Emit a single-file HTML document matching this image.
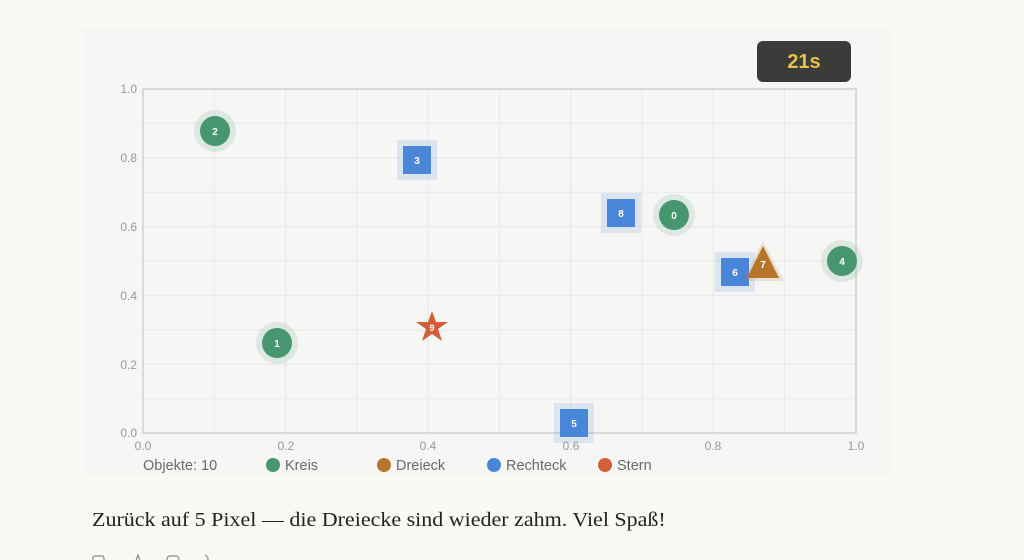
<!DOCTYPE html>
<html><head><meta charset="utf-8"><style>
html,body{margin:0;padding:0;background:#faf9f6;width:1024px;height:560px;overflow:hidden;}
svg{position:absolute;left:0;top:0;}
.p{position:absolute;left:92px;top:509px;font-family:"Liberation Serif",serif;font-size:20px;color:#222;white-space:nowrap;transform:scaleX(1.1);transform-origin:0 0;}
</style></head><body>
<svg width="1024" height="560" xmlns="http://www.w3.org/2000/svg" font-family="Liberation Sans, sans-serif">
<rect x="82" y="28" width="810" height="446" fill="#f6f6f4"/>
<g stroke="#e8e8e6" stroke-width="1">
<line x1="214.3" y1="89" x2="214.3" y2="433"/><line x1="285.6" y1="89" x2="285.6" y2="433"/><line x1="356.9" y1="89" x2="356.9" y2="433"/><line x1="428.2" y1="89" x2="428.2" y2="433"/><line x1="499.5" y1="89" x2="499.5" y2="433"/><line x1="570.8" y1="89" x2="570.8" y2="433"/><line x1="642.1" y1="89" x2="642.1" y2="433"/><line x1="713.4" y1="89" x2="713.4" y2="433"/><line x1="784.7" y1="89" x2="784.7" y2="433"/>
<line x1="143" y1="123.4" x2="856" y2="123.4"/><line x1="143" y1="157.8" x2="856" y2="157.8"/><line x1="143" y1="192.2" x2="856" y2="192.2"/><line x1="143" y1="226.6" x2="856" y2="226.6"/><line x1="143" y1="261" x2="856" y2="261"/><line x1="143" y1="295.4" x2="856" y2="295.4"/><line x1="143" y1="329.8" x2="856" y2="329.8"/><line x1="143" y1="364.2" x2="856" y2="364.2"/><line x1="143" y1="398.6" x2="856" y2="398.6"/>
</g>
<rect x="143" y="89" width="713" height="344" fill="none" stroke="#d0d0ce" stroke-width="1.5"/>
<g fill="#999" font-size="12" text-anchor="end">
<text x="137" y="93">1.0</text><text x="137" y="162">0.8</text><text x="137" y="231">0.6</text><text x="137" y="300">0.4</text><text x="137" y="369">0.2</text><text x="137" y="437">0.0</text>
</g>
<g fill="#999" font-size="12" text-anchor="middle">
<text x="143" y="450">0.0</text><text x="286" y="450">0.2</text><text x="428" y="450">0.4</text><text x="571" y="450">0.6</text><text x="713" y="450">0.8</text><text x="856" y="450">1.0</text>
</g>
<rect x="757" y="41" width="94" height="41" rx="6" fill="#3b3b3a"/>
<text x="804" y="68" text-anchor="middle" font-size="20" font-weight="bold" fill="#e8c24a">21s</text>
<g font-size="10" font-weight="bold" fill="#fff" text-anchor="middle">
<circle cx="215" cy="131" r="21" fill="#4a9d78" opacity="0.15"/><circle cx="215" cy="131" r="15" fill="#46976f"/><text x="215" y="135">2</text>
<circle cx="674" cy="215" r="21" fill="#4a9d78" opacity="0.15"/><circle cx="674" cy="215" r="15" fill="#46976f"/><text x="674" y="219">0</text>
<circle cx="842" cy="261" r="21" fill="#4a9d78" opacity="0.15"/><circle cx="842" cy="261" r="15" fill="#46976f"/><text x="842" y="265">4</text>
<circle cx="277" cy="343" r="21" fill="#4a9d78" opacity="0.15"/><circle cx="277" cy="343" r="15" fill="#46976f"/><text x="277" y="347">1</text>
<rect x="397" y="140" width="40" height="40" fill="#4a86d8" opacity="0.15"/><rect x="403" y="146" width="28" height="28" fill="#4a86d8"/><text x="417" y="164">3</text>
<rect x="601" y="193" width="40" height="40" fill="#4a86d8" opacity="0.15"/><rect x="607" y="199" width="28" height="28" fill="#4a86d8"/><text x="621" y="217">8</text>
<rect x="715" y="252" width="40" height="40" fill="#4a86d8" opacity="0.15"/><rect x="721" y="258" width="28" height="28" fill="#4a86d8"/><text x="735" y="276">6</text>
<rect x="554" y="403" width="40" height="40" fill="#4a86d8" opacity="0.15"/><rect x="560" y="409" width="28" height="28" fill="#4a86d8"/><text x="574" y="427">5</text>
<polygon points="763,241 784,281 742,281" fill="#b87830" opacity="0.18"/><polygon points="763,246 779,278 747,278" fill="#b5762c"/><text x="763" y="268">7</text>
<polygon points="432,311 436,322 448,322 438,329 442,341 432,334 422,341 426,329 416,322 428,322" fill="#d35e3a"/><text x="432" y="331" font-size="9">9</text>
</g>
<g font-size="14.5" fill="#6a6a6a">
<text x="143" y="470">Objekte: 10</text>
<circle cx="273" cy="465" r="7" fill="#46976f"/><text x="285" y="470">Kreis</text>
<circle cx="384" cy="465" r="7" fill="#b5762c"/><text x="396" y="470">Dreieck</text>
<circle cx="494" cy="465" r="7" fill="#4a86d8"/><text x="506" y="470">Rechteck</text>
<circle cx="605" cy="465" r="7" fill="#d35e3a"/><text x="617" y="470">Stern</text>
</g>
<g stroke="#888" stroke-width="1.2" fill="none">
<rect x="93" y="556" width="11" height="10" rx="2"/><path d="M134 566 L138 555 L142 566"/><rect x="167" y="556" width="12" height="10" rx="3"/><path d="M205 555 q6 3 0 8"/>
</g>
</svg>
<div class="p">Zurück auf 5 Pixel — die Dreiecke sind wieder zahm. Viel Spaß!</div>
</body></html>
